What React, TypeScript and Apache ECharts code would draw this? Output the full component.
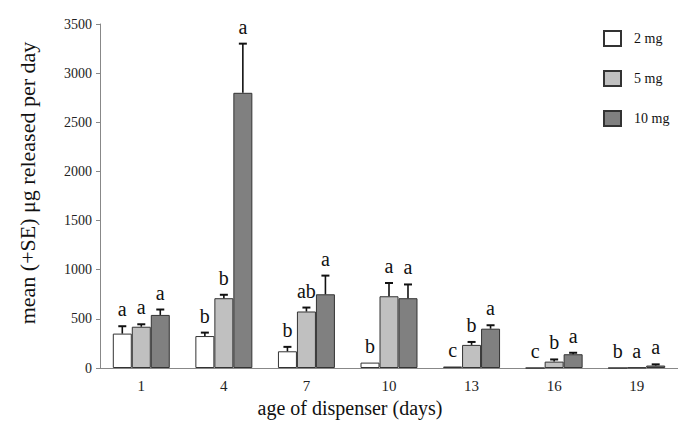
import React, { useEffect, useRef } from "react";
import * as echarts from "echarts";

const categories = ["1", "4", "7", "10", "13", "16", "19"];
const seriesNames = ["2 mg", "5 mg", "10 mg"];
const mean2 = [350, 325, 170, 55, 15, 0, 0];
const se2 = [75, 35, 45, 0, 0, 0, 0];
const mean5 = [420, 710, 575, 730, 235, 65, 5];
const se5 = [25, 35, 40, 135, 30, 22, 0];
const mean10 = [540, 2800, 750, 710, 400, 140, 25];
const se10 = [55, 500, 190, 140, 35, 15, 12];
const letters2 = ["a", "b", "b", "b", "c", "c", "b"];
const letters5 = ["a", "b", "ab", "a", "b", "b", "a"];
const letters10 = ["a", "a", "a", "a", "a", "a", "a"];
const yTicks = { min: 0, max: 3500, interval: 500 };

const SERIF = "Liberation Serif, serif";
const colors = ["#ffffff", "#c0c0c0", "#808080"];
const BAR_FRAC = 0.23;

function errSeries(idx: number, means: number[], ses: number[], letters: string[]) {
  return {
    type: "custom",
    name: seriesNames[idx] + " err",
    z: 5,
    encode: { x: 0, y: 1 },
    data: categories.map((_, i) => [i, means[i], ses[i]]),
    renderItem: (params: any, api: any) => {
      const i = api.value(0);
      const m = api.value(1);
      const s = api.value(2);
      const band = api.size([1, 0])[0];
      const off = (idx - 1) * band * BAR_FRAC;
      const base = api.coord([i, m]);
      const top = api.coord([i, m + s]);
      const x = base[0] + off;
      const children: any[] = [];
      if (s > 0) {
        children.push({
          type: "line",
          shape: { x1: x, y1: base[1], x2: x, y2: top[1] },
          style: { stroke: "#111", lineWidth: 1.6 },
        });
        children.push({
          type: "line",
          shape: { x1: x - 4, y1: top[1], x2: x + 4, y2: top[1] },
          style: { stroke: "#111", lineWidth: 2 },
        });
      }
      children.push({
        type: "text",
        style: {
          text: letters[params.dataIndex],
          x: x,
          y: top[1] - 7,
          align: "center",
          verticalAlign: "bottom",
          fontSize: 20,
          fontFamily: SERIF,
          fill: "#111",
        },
      });
      return { type: "group", children };
    },
  };
}

export default function App() {
  const ref = useRef<HTMLDivElement>(null);
  useEffect(() => {
    if (!ref.current) return;
    const chart = echarts.init(ref.current, null, { renderer: "svg" });
    const means = [mean2, mean5, mean10];
    chart.setOption({
      animation: false,
      backgroundColor: "#ffffff",
      textStyle: { fontFamily: SERIF },
      grid: {
        left: 100,
        right: 0,
        top: 24,
        bottom: 55,
        containLabel: false,
        outerBoundsMode: "none",
      },
      legend: {
        data: seriesNames,
        orient: "vertical",
        left: 598,
        top: 25,
        itemGap: 23,
        itemWidth: 17,
        itemHeight: 15,
        icon: "rect",
        textStyle: { fontFamily: SERIF, fontSize: 14, color: "#111", padding: [0, 0, 0, 8] },
      },
      xAxis: {
        type: "category",
        data: categories,
        name: "age of dispenser (days)",
        nameLocation: "middle",
        nameGap: 30,
        nameTextStyle: { fontFamily: SERIF, fontSize: 20, color: "#111", padding: [0, 78, 0, 0] },
        axisLine: { lineStyle: { color: "#888" } },
        axisTick: { length: 4, lineStyle: { color: "#888" } },
        axisLabel: { fontFamily: SERIF, fontSize: 15, color: "#222", margin: 10 },
      },
      yAxis: {
        type: "value",
        min: yTicks.min,
        max: yTicks.max,
        interval: yTicks.interval,
        name: "mean (+SE) μg released per day",
        nameLocation: "middle",
        nameGap: 62,
        nameTextStyle: { fontFamily: SERIF, fontSize: 22, color: "#111", padding: [0, 0, 0, 26] },
        splitLine: { show: false },
        axisLine: { show: true, lineStyle: { color: "#888" } },
        axisTick: { show: true, length: 4, lineStyle: { color: "#888" } },
        axisLabel: {
          fontFamily: SERIF,
          fontSize: 14,
          color: "#222",
          margin: 8,
          formatter: (v: number) => String(v),
        },
      },
      series: [
        ...means.map((d, k) => ({
          type: "bar",
          name: seriesNames[k],
          data: d,
          barWidth: BAR_FRAC * 100 + "%",
          barGap: "0%",
          itemStyle: { color: colors[k], borderColor: "#333", borderWidth: 1 },
        })),
        errSeries(0, mean2, se2, letters2),
        errSeries(1, mean5, se5, letters5),
        errSeries(2, mean10, se10, letters10),
      ],
    });
    return () => chart.dispose();
  }, []);
  return (
    <div
      ref={ref}
      style={{ position: "absolute", left: 0, top: 0, width: 678, height: 423 }}
    />
  );
}
